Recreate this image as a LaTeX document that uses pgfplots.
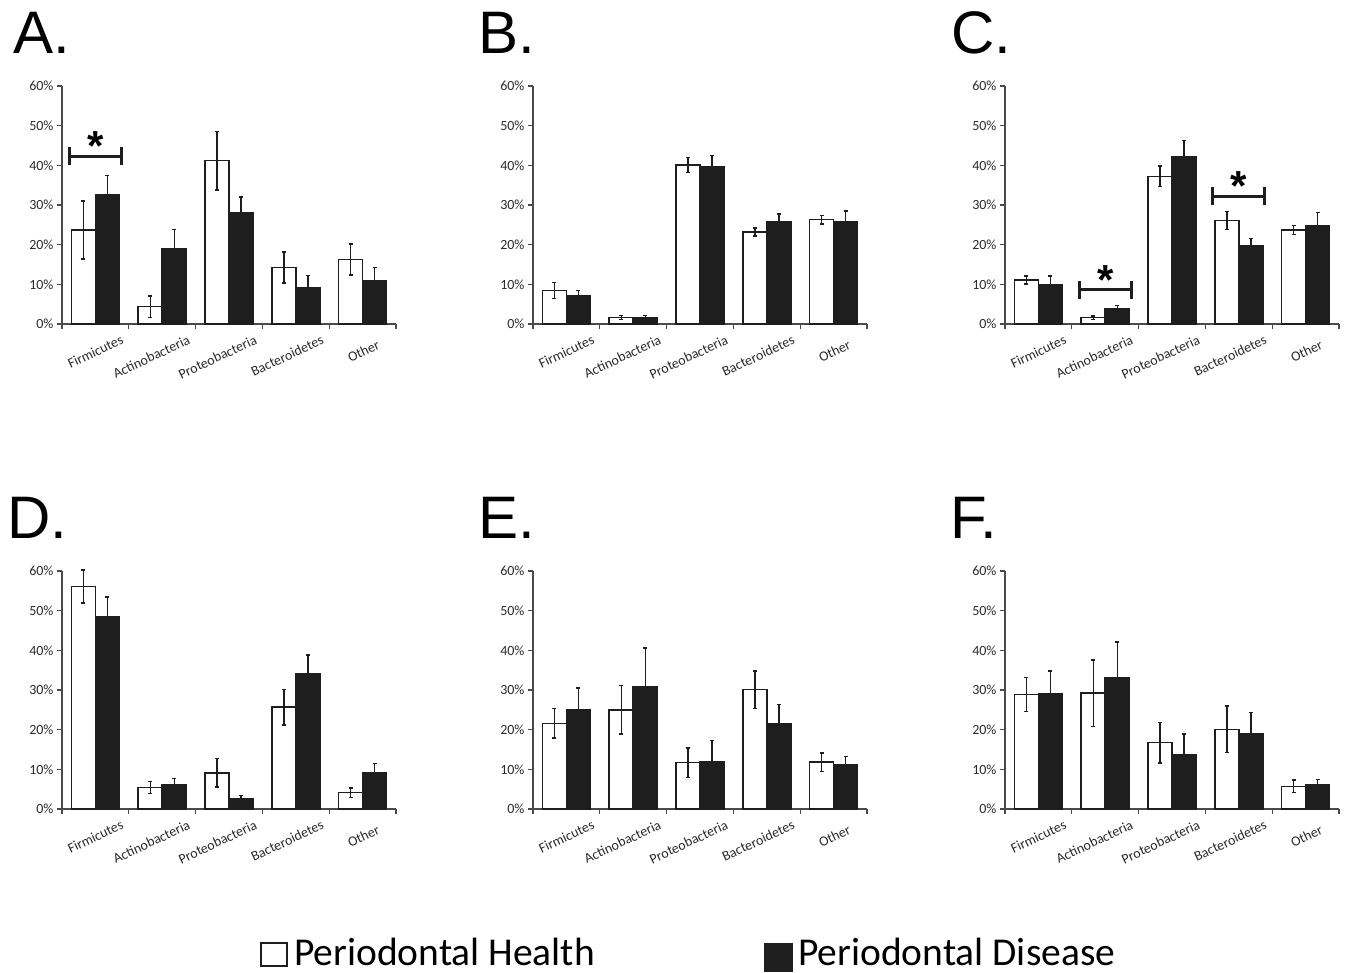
\documentclass[border=0pt]{standalone}
\usepackage{pgfplots}
\pgfplotsset{compat=1.18}
\usepackage{pgfplotstable}
\usepackage{fontspec}
\setmainfont{Carlito}
\newfontfamily\arial{Liberation Sans}
\definecolor{barblk}{HTML}{1E1E1E}
\definecolor{axgray}{HTML}{4A4A4A}
\definecolor{txt}{HTML}{2A2A2A}

\pgfplotstableread{
x h he d de
0 23.7 7.3 32.7 4.7
1 4.4 2.7 18.9 4.9
2 41.2 7.4 28.1 3.9
3 14.2 3.9 9.1 3.1
4 16.3 3.9 11.0 3.3
}\dataA
\pgfplotstableread{
x h he d de
0 8.5 2.0 7.0 1.4
1 1.6 0.5 1.6 0.5
2 40.1 1.9 39.7 2.8
3 23.2 1.0 25.7 2.0
4 26.3 1.1 25.9 2.6
}\dataB
\pgfplotstableread{
x h he d de
0 11.1 1.0 9.8 2.3
1 1.6 0.4 3.8 0.9
2 37.2 2.6 42.1 4.2
3 26.1 2.3 19.6 2.0
4 23.7 1.2 24.7 3.4
}\dataC
\pgfplotstableread{
x h he d de
0 56.1 4.2 48.4 5.0
1 5.4 1.5 6.1 1.6
2 9.1 3.6 2.6 0.8
3 25.7 4.5 34.1 4.7
4 4.1 1.2 9.2 2.2
}\dataD
\pgfplotstableread{
x h he d de
0 21.6 3.7 24.9 5.6
1 25.0 6.1 30.9 9.7
2 11.7 3.7 12.0 5.2
3 30.1 4.7 21.5 4.8
4 11.8 2.3 11.1 2.2
}\dataE
\pgfplotstableread{
x h he d de
0 28.9 4.3 29.1 5.7
1 29.2 8.4 33.0 9.1
2 16.7 5.1 13.6 5.3
3 20.1 5.9 19.0 5.3
4 5.7 1.6 6.0 1.5
}\dataF

\pgfplotsset{
  panel/.style={
    scale only axis, width=334pt, height=238pt,
    anchor=south west,
    ymin=0, ymax=60, xmin=-0.5, xmax=4.5,
    axis x line=bottom, axis y line=left,
    axis line style={-, axgray, line width=1.6pt},
    ytick={0,10,...,60},
    yticklabels={0\%,10\%,20\%,30\%,40\%,50\%,60\%},
    xtick={-0.5,0.5,1.5,2.5,3.5,4.5},
    x tick label as interval=true,
    xticklabels={Firmicutes,Actinobacteria,Proteobacteria,Bacteroidetes,Other\rule{12pt}{0pt}},
    tick align=outside, major tick length=5pt,
    tick style={axgray, line width=1.2pt},
    yticklabel style={font=\fontsize{14}{16}\selectfont, color=txt},
    xticklabel style={font=\fontsize{14}{16}\selectfont, color=txt, anchor=east, inner sep=0pt, xshift=27pt, yshift=-10pt, rotate=25},
    ybar=0pt, bar width=24pt,
    clip=false,
  },
  hbar/.style={fill=white, draw=barblk, line width=1.5pt,
    error bars/.cd, y dir=both, y explicit,
    error bar style={line width=1.4pt, color=barblk},
    error mark options={rotate=90, mark size=2pt, line width=1.4pt, barblk}},
  dbar/.style={fill=barblk, draw=barblk, line width=1.5pt,
    error bars/.cd, y dir=both, y explicit,
    error bar style={line width=1.4pt, color=barblk},
    error mark options={rotate=90, mark size=2pt, line width=1.4pt, barblk}},
}
\newcommand\sig[3]{% x, y, star y
  \draw[barblk, line width=3.2pt] (axis cs:#1-0.39,#2) -- (axis cs:#1+0.39,#2);
  \draw[barblk, line width=3.2pt] (axis cs:#1-0.39,#2-2.3) -- (axis cs:#1-0.39,#2+2.3);
  \draw[barblk, line width=3.2pt] (axis cs:#1+0.39,#2-2.3) -- (axis cs:#1+0.39,#2+2.3);
  \node[font=\arial\bfseries\fontsize{42}{42}\selectfont, inner sep=0pt, yshift=-4pt] at (axis cs:#1,#3) {*};
}

\begin{document}
\begin{tikzpicture}
\useasboundingbox (0,0) rectangle (1350pt,973pt);

\begin{axis}[panel, at={(62pt,649pt)}]
\addplot[hbar] table[x=x, y=h, y error=he] {\dataA};
\addplot[dbar] table[x=x, y=d, y error=de] {\dataA};
\sig{0}{42.3}{45.9}
\end{axis}

\begin{axis}[panel, at={(533pt,649pt)}]
\addplot[hbar] table[x=x, y=h, y error=he] {\dataB};
\addplot[dbar] table[x=x, y=d, y error=de] {\dataB};
\end{axis}

\begin{axis}[panel, at={(1005pt,649pt)}]
\addplot[hbar] table[x=x, y=h, y error=he] {\dataC};
\addplot[dbar] table[x=x, y=d, y error=de] {\dataC};
\sig{1}{8.6}{12.0}
\sig{3}{32.2}{35.7}
\end{axis}

\begin{axis}[panel, at={(62pt,164pt)}]
\addplot[hbar] table[x=x, y=h, y error=he] {\dataD};
\addplot[dbar] table[x=x, y=d, y error=de] {\dataD};
\end{axis}

\begin{axis}[panel, at={(533pt,164pt)}]
\addplot[hbar] table[x=x, y=h, y error=he] {\dataE};
\addplot[dbar] table[x=x, y=d, y error=de] {\dataE};
\end{axis}

\begin{axis}[panel, at={(1005pt,164pt)}]
\addplot[hbar] table[x=x, y=h, y error=he] {\dataF};
\addplot[dbar] table[x=x, y=d, y error=de] {\dataF};
\end{axis}

\begin{scope}[every node/.style={anchor=base west, inner sep=0pt, font=\arial\fontsize{60}{60}\selectfont, text=black}]
\node at (13pt,919pt) {A.};
\node at (478pt,919pt) {B.};
\node at (951pt,919pt) {C.};
\node at (7pt,434pt) {D.};
\node at (478pt,434pt) {E.};
\node at (950pt,434pt) {F.};
\end{scope}

\draw[barblk, line width=1.5pt, fill=white] (261pt,7pt) rectangle (287pt,30pt);
\node[anchor=base west, inner sep=0pt, font=\fontsize{39.5}{40}\selectfont, text=black] at (294pt,7pt) {Periodontal Health};
\fill[barblk] (764pt,1pt) rectangle (793pt,30pt);
\node[anchor=base west, inner sep=0pt, font=\fontsize{39.5}{40}\selectfont, text=black] at (798pt,7pt) {Periodontal Disease};
\end{tikzpicture}
\end{document}
